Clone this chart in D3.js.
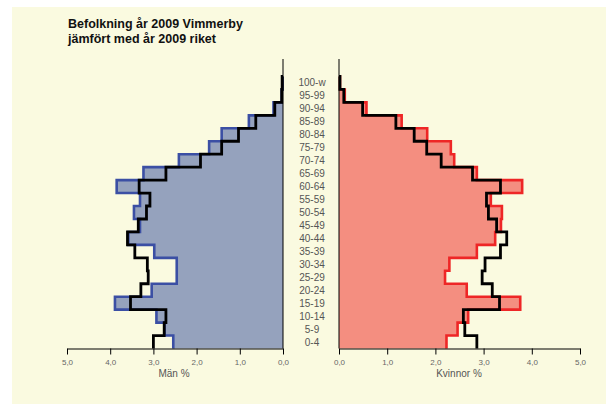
<!DOCTYPE html>
<html><head><meta charset="utf-8">
<script src="https://cdn.jsdelivr.net/npm/d3@7"></script>
<style>body{margin:0;background:#fff}svg{display:block}</style>
</head><body>
<script>
const ages = ["0-4","5-9","10-14","15-19","20-24","25-29","30-34","35-39","40-44","45-49","50-54","55-59","60-64","65-69","70-74","75-79","80-84","85-89","90-94","95-99","100-w"];
const menVimmerby = [2.54,2.74,2.93,3.89,3.04,2.46,2.46,2.98,3.58,3.31,3.45,3.31,3.85,3.23,2.41,1.71,1.42,0.79,0.22,0.03,0.01];
const menRiket    = [3.00,2.75,2.71,3.53,3.29,3.12,3.14,3.43,3.60,3.35,3.16,3.08,3.33,2.71,1.91,1.42,1.03,0.63,0.19,0.03,0.02];
const womenVimmerby = [2.23,2.46,2.68,3.76,2.65,2.20,2.29,2.86,3.24,3.36,3.38,3.15,3.80,2.86,2.39,2.32,1.83,1.30,0.57,0.12,0.02];
const womenRiket    = [2.86,2.61,2.58,3.33,3.18,2.97,3.03,3.35,3.48,3.27,3.10,3.06,3.35,2.77,2.12,1.82,1.56,1.18,0.49,0.10,0.02];
const ticks = [0,1,2,3,4,5];

const W=606,H=405;
const svg=d3.select("body").append("svg").attr("width",W).attr("height",H);
svg.append("rect").attr("x",12).attr("y",7).attr("width",W-12).attr("height",H-8).attr("fill","#fafae0");

const y=d3.scaleBand().domain(ages).range([348.5,76.5]).paddingInner(0).paddingOuter(0);
const xL=d3.scaleLinear().domain([0,5]).range([283,67]);
const xR=d3.scaleLinear().domain([0,5]).range([339,580]);

function stepPts(vals,x){
  const pts=[[x(0),y(ages[0])+y.bandwidth()]];
  vals.forEach((v,i)=>{
    const yb=y(ages[i])+y.bandwidth(), yt=y(ages[i]);
    pts.push([x(v),yb]); pts.push([x(v),yt]);
  });
  pts.push([x(0),y(ages[ages.length-1])]);
  return pts;
}
const line=d3.line();
function side(vals,ref,x,fill,stroke){
  const pts=stepPts(vals,x);
  svg.append("path").attr("d",line(pts)+"Z").attr("fill",fill).attr("stroke","none");
  svg.append("path").attr("d",line(pts.slice(1))).attr("fill","none").attr("stroke",stroke).attr("stroke-width",2.6).attr("stroke-linejoin","miter");
  svg.append("path").attr("d",line(stepPts(ref,x).slice(1))).attr("fill","none").attr("stroke","#000").attr("stroke-width",2.8);
}
side(menVimmerby,menRiket,xL,"#95a2bd","#3b4fa4");
side(womenVimmerby,womenRiket,xR,"#f48e80","#ee2626");

// vertical zero lines
[xL(0),xR(0)].forEach(xx=>svg.append("line").attr("x1",xx).attr("x2",xx).attr("y1",59).attr("y2",348.5).attr("stroke","#000").attr("stroke-width",1));

const fmt=d=>d3.format(".1f")(d).replace(".",",");
function axis(x){
  const g=svg.append("g").attr("transform","translate(0,348.5)");
  g.call(d3.axisBottom(x).tickValues(ticks).tickFormat(fmt).tickSize(6).tickSizeOuter(0));
  g.select(".domain").attr("stroke","#000");
  g.selectAll(".tick line").attr("stroke","#000");
  g.selectAll("text").attr("font-family","Liberation Sans, Arial, sans-serif").attr("font-size",8).attr("fill","#666").attr("dy","0.9em");
}
axis(xL); axis(xR);

svg.selectAll(".age").data(ages).enter().append("text")
  .attr("x",312).attr("y",d=>y(d)+y.bandwidth()/2).attr("dy","0.35em")
  .attr("text-anchor","middle").attr("font-family","Liberation Sans, Arial, sans-serif")
  .attr("font-size",10).attr("fill","#555").text(d=>d);

svg.append("text").attr("x",174).attr("y",377).attr("text-anchor","middle").attr("font-family","Liberation Sans, Arial, sans-serif").attr("font-size",10).attr("fill","#555").text("Män %");
svg.append("text").attr("x",459).attr("y",377).attr("text-anchor","middle").attr("font-family","Liberation Sans, Arial, sans-serif").attr("font-size",10).attr("fill","#555").text("Kvinnor %");

const t=svg.append("text").attr("font-family","Liberation Sans, Arial, sans-serif").attr("font-weight","bold").attr("font-size",12.5).attr("fill","#111");
t.append("tspan").attr("x",68).attr("y",28).text("Befolkning år 2009 Vimmerby");
t.append("tspan").attr("x",68).attr("y",43).text("jämfört med år 2009 riket");
</script>
</body></html>
